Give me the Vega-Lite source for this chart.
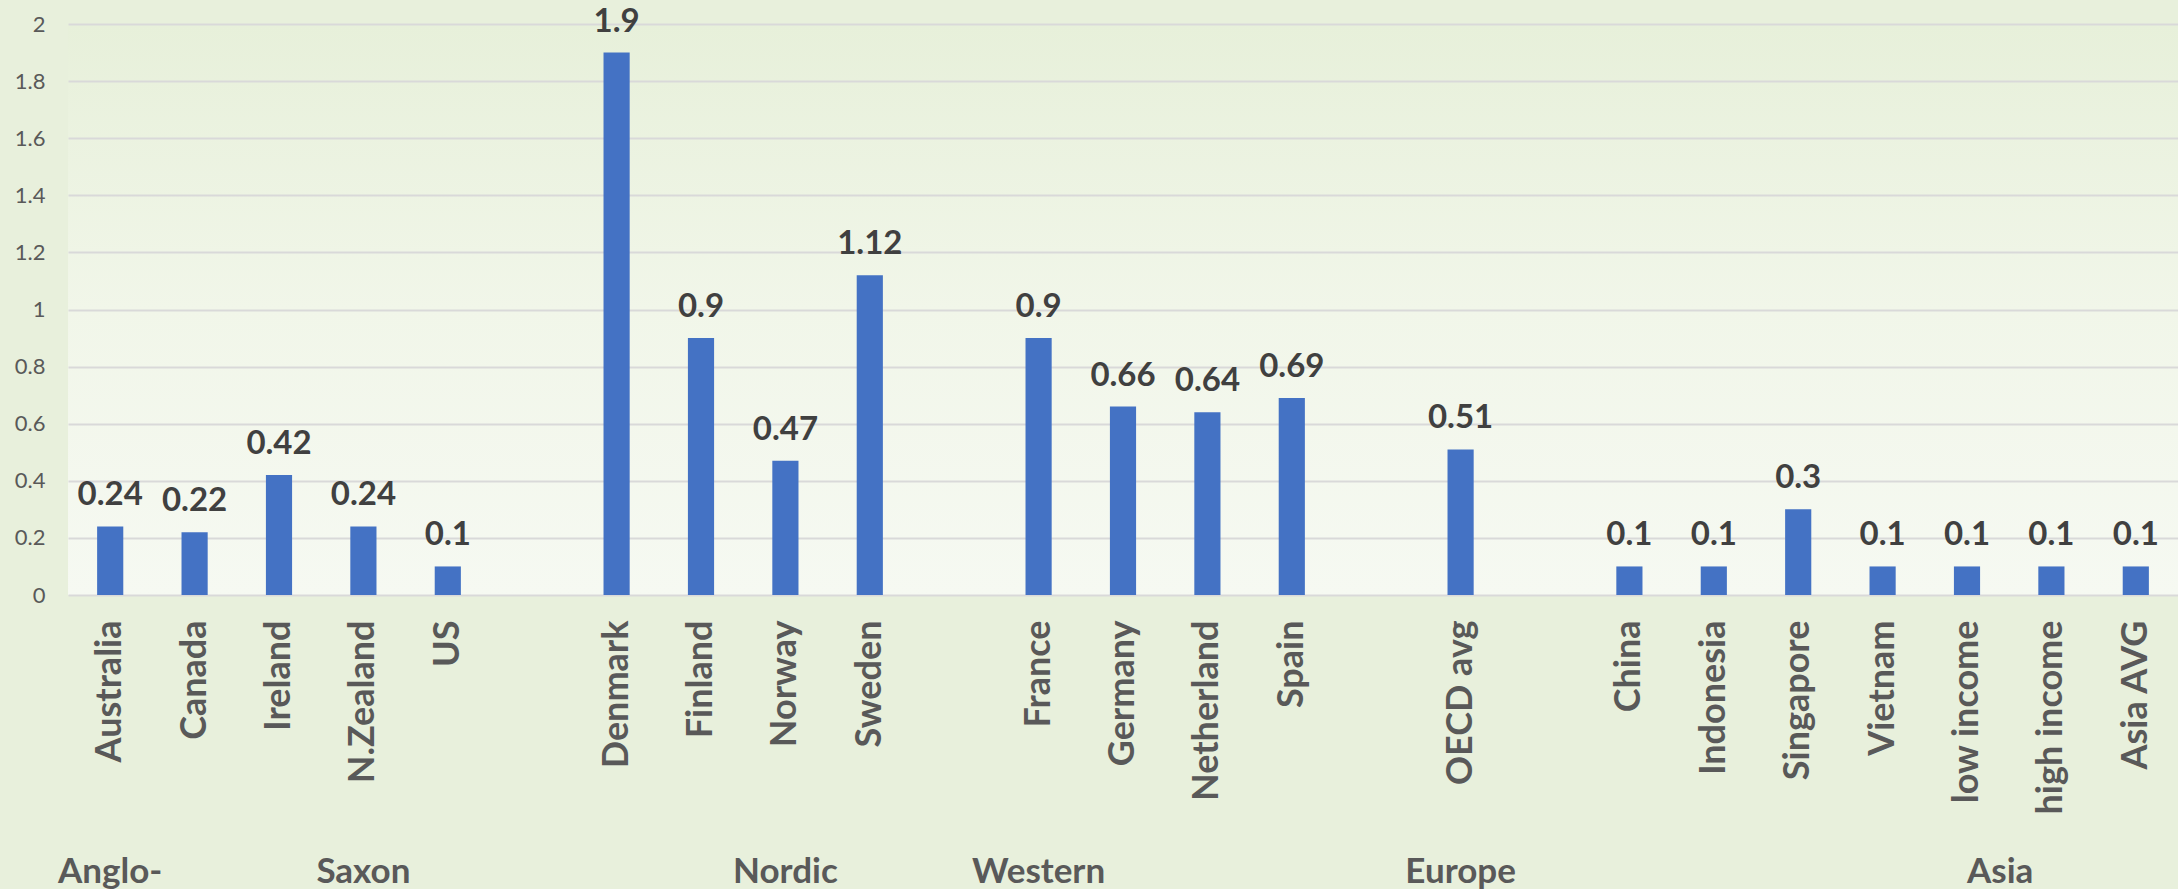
{
  "$schema": "https://vega.github.io/schema/vega-lite/v6.json",
  "width": 2110,
  "height": 571,
  "autosize": {"type": "none"},
  "padding": {"left": 68, "top": 24, "right": 0, "bottom": 294},
  "background": "#e8f0dc",
  "config": {
    "font": "Lato",
    "view": {
      "stroke": null,
      "fill": {
        "gradient": "linear",
        "x1": 0, "y1": 0, "x2": 0, "y2": 1,
        "stops": [
          {"offset": 0, "color": "#e7f0da"},
          {"offset": 0.5, "color": "#f1f6e9"},
          {"offset": 1, "color": "#f6f9f2"}
        ]
      }
    }
  },
  "data": {
    "values": [
      {"country": "Australia", "value": 0.24},
      {"country": "Canada", "value": 0.22},
      {"country": "Ireland", "value": 0.42},
      {"country": "N.Zealand", "value": 0.24},
      {"country": "US", "value": 0.1},
      {"country": "Denmark", "value": 1.9},
      {"country": "Finland", "value": 0.9},
      {"country": "Norway", "value": 0.47},
      {"country": "Sweden", "value": 1.12},
      {"country": "France", "value": 0.9},
      {"country": "Germany", "value": 0.66},
      {"country": "Netherland", "value": 0.64},
      {"country": "Spain", "value": 0.69},
      {"country": "OECD avg", "value": 0.51},
      {"country": "China", "value": 0.1},
      {"country": "Indonesia", "value": 0.1},
      {"country": "Singapore", "value": 0.3},
      {"country": "Vietnam", "value": 0.1},
      {"country": "low income", "value": 0.1},
      {"country": "high income", "value": 0.1},
      {"country": "Asia AVG", "value": 0.1}
    ]
  },
  "layer": [
    {
      "mark": {"type": "bar", "color": "#4472C4"},
      "encoding": {
        "x": {
          "field": "country",
          "type": "nominal",
          "sort": null,
          "scale": {
            "domain": ["Australia", "Canada", "Ireland", "N.Zealand", "US", " ", "Denmark", "Finland", "Norway", "Sweden", "  ", "France", "Germany", "Netherland", "Spain", "   ", "OECD avg", "    ", "China", "Indonesia", "Singapore", "Vietnam", "low income", "high income", "Asia AVG"],
            "paddingInner": 0.69,
            "paddingOuter": 0.345
          },
          "axis": {
            "title": null,
            "orient": "bottom",
            "domain": false,
            "ticks": false,
            "labelAngle": -90,
            "labelAlign": "right",
            "labelBaseline": "middle",
            "labelPadding": 25,
            "labelFont": "Lato",
            "labelFontSize": 36,
            "labelFontWeight": "bold",
            "labelColor": "#595959",
            "labelOverlap": false,
            "labelLimit": 400
          }
        },
        "y": {
          "field": "value",
          "type": "quantitative",
          "scale": {"domain": [0, 2], "nice": false},
          "axis": {
            "title": null,
            "values": [0, 0.2, 0.4, 0.6, 0.8, 1, 1.2, 1.4, 1.6, 1.8, 2],
            "format": "~g",
            "domain": false,
            "ticks": false,
            "labelPadding": 23,
            "labelFont": "Lato",
            "labelFontSize": 22,
            "labelColor": "#595959",
            "grid": true,
            "gridColor": "#d9d9d9",
            "gridWidth": 2
          }
        }
      }
    },
    {
      "mark": {"type": "text", "baseline": "alphabetic", "dy": -21, "font": "Lato", "fontSize": 33, "fontWeight": "bold", "color": "#404040"},
      "encoding": {
        "x": {
          "field": "country",
          "type": "nominal",
          "sort": null,
          "axis": {
            "title": null,
            "orient": "bottom",
            "domain": false,
            "ticks": false,
            "grid": false,
            "labelAngle": 0,
            "labelBaseline": "alphabetic",
            "labelPadding": 287,
            "labelFont": "Lato",
            "labelFontSize": 35,
            "labelFontWeight": "bold",
            "labelColor": "#595959",
            "labelOverlap": false,
            "labelLimit": 400,
            "labelAlign": {"condition": {"test": "datum.value === 'low income'", "value": "left"}, "value": "center"},
            "labelExpr": "datum.value === 'Australia' ? 'Anglo-' : datum.value === 'N.Zealand' ? 'Saxon' : datum.value === 'Norway' ? 'Nordic' : datum.value === 'France' ? 'Western' : datum.value === 'OECD avg' ? 'Europe' : datum.value === 'low income' ? 'Asia' : ''"
          }
        },
        "y": {"field": "value", "type": "quantitative"},
        "text": {"field": "value", "type": "quantitative", "format": ".2~f"}
      }
    }
  ],
  "resolve": {"axis": {"x": "independent", "y": "shared"}}
}
